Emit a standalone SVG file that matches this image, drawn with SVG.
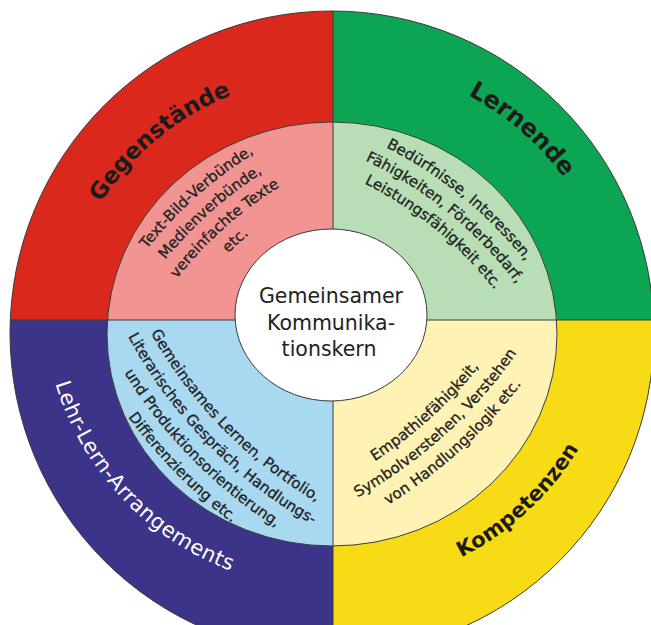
<svg xmlns="http://www.w3.org/2000/svg" width="651" height="625" viewBox="0 0 651 625">
<style>
.lbl{font-family:"DejaVu Sans","Liberation Sans",sans-serif;font-weight:bold;fill:#1b1b1b}
.inr{font-family:"DejaVu Sans","Liberation Sans",sans-serif;font-size:15px;fill:#222;stroke:#222;stroke-width:0.3}
.ctr{font-family:"DejaVu Sans","Liberation Sans",sans-serif;font-size:20.5px;fill:#222;text-anchor:middle}
.ln{stroke:#3a3a3a;stroke-width:1;fill:none}
</style>
<defs>
<clipPath id="clipOuter"><circle cx="332" cy="333" r="322"/></clipPath>
<clipPath id="clipMid"><ellipse cx="332" cy="334" rx="225" ry="212"/></clipPath>
<path id="pG" d="M58.01,347.61 A274,274 0 0 1 381.93,80.59"/>
<path id="pL" d="M285.30,64.80 A289,289 0 0 1 620.98,353.53"/>
<path id="pA" d="M55.33,216.47 A289,289 0 0 0 397.99,581.36"/>
<path id="pK" d="M295.90,585.73 A288,288 0 0 0 619.66,285.93"/>
<path id="r1" d="M90.20,344.30 A420,420 0 0 1 354.85,107.68"/>
<path id="r2" d="M109.50,352.57 A399,399 0 0 1 360.92,127.78"/>
<path id="r3" d="M128.81,360.84 A378,378 0 0 1 366.99,147.88"/>
<path id="r4" d="M148.11,369.11 A357,357 0 0 1 373.06,167.99"/>
<path id="g1" d="M299.52,114.98 A420,420 0 0 1 574.62,339.35"/>
<path id="g2" d="M294.37,135.34 A399,399 0 0 1 555.72,348.49"/>
<path id="g3" d="M289.22,155.70 A378,378 0 0 1 536.81,357.63"/>
<path id="b1" d="M119.22,263.12 A450,450 0 0 0 385.54,534.69"/>
<path id="b2" d="M98.95,270.27 A471.5,471.5 0 0 0 377.99,554.82"/>
<path id="b3" d="M78.68,277.43 A493,493 0 0 0 370.44,574.95"/>
<path id="b4" d="M58.40,284.59 A514.5,514.5 0 0 0 362.89,595.08"/>
<path id="y1" d="M261.50,514.65 A450,450 0 0 0 543.10,258.95"/>
<path id="y2" d="M268.02,535.66 A472,472 0 0 0 563.39,267.46"/>
<path id="y3" d="M274.54,556.67 A494,494 0 0 0 583.68,275.97"/>
</defs>
<rect width="651" height="625" fill="#fff"/>

<g id="gegenstaende">
<rect clip-path="url(#clipOuter)" x="0" y="0" width="333" height="320" fill="#DA291C"/>
<rect clip-path="url(#clipMid)" x="0" y="0" width="333" height="320" fill="#F19492"/>
<text class="lbl" font-size="23"><textPath href="#pG" startOffset="50%" text-anchor="middle">Gegenstände</textPath></text>
<text class="inr"><textPath href="#r1" startOffset="50%" text-anchor="middle">Text-Bild-Verbünde,</textPath></text>
<text class="inr"><textPath href="#r2" startOffset="50%" text-anchor="middle">Medienverbünde,</textPath></text>
<text class="inr"><textPath href="#r3" startOffset="50%" text-anchor="middle">vereinfachte Texte</textPath></text>
<text class="inr"><textPath href="#r4" startOffset="50%" text-anchor="middle">etc.</textPath></text>
</g>

<g id="lernende">
<rect clip-path="url(#clipOuter)" x="333" y="0" width="318" height="320" fill="#0CA553"/>
<rect clip-path="url(#clipMid)" x="333" y="0" width="318" height="320" fill="#B9DEB6"/>
<text class="lbl" font-size="24"><textPath href="#pL" startOffset="50%" text-anchor="middle">Lernende</textPath></text>
<text class="inr"><textPath href="#g1" startOffset="50%" text-anchor="middle">Bedürfnisse, Interessen,</textPath></text>
<text class="inr"><textPath href="#g2" startOffset="50%" text-anchor="middle">Fähigkeiten, Förderbedarf,</textPath></text>
<text class="inr"><textPath href="#g3" startOffset="50%" text-anchor="middle">Leistungsfähigkeit etc.</textPath></text>
</g>

<g id="lehr-lern-arrangements">
<rect clip-path="url(#clipOuter)" x="0" y="320" width="333" height="305" fill="#3B3489"/>
<rect clip-path="url(#clipMid)" x="0" y="320" width="333" height="305" fill="#A8D9F1"/>
<text class="lbl" font-size="21" style="font-weight:normal;fill:#fff" letter-spacing="0.5"><textPath href="#pA" startOffset="50%" text-anchor="middle">Lehr-Lern-Arrangements</textPath></text>
<text class="inr"><textPath href="#b1" startOffset="50%" text-anchor="middle">Gemeinsames Lernen, Portfolio,</textPath></text>
<text class="inr"><textPath href="#b2" startOffset="50%" text-anchor="middle">Literarisches Gespräch, Handlungs-</textPath></text>
<text class="inr"><textPath href="#b3" startOffset="50%" text-anchor="middle">und Produktionsorientierung,</textPath></text>
<text class="inr"><textPath href="#b4" startOffset="50%" text-anchor="middle">Differenzierung etc.</textPath></text>
</g>

<g id="kompetenzen">
<rect clip-path="url(#clipOuter)" x="333" y="320" width="318" height="305" fill="#F7DC15"/>
<rect clip-path="url(#clipMid)" x="333" y="320" width="318" height="305" fill="#FEF2B4"/>
<text class="lbl" font-size="21"><textPath href="#pK" startOffset="50%" text-anchor="middle">Kompetenzen</textPath></text>
<text class="inr"><textPath href="#y1" startOffset="50%" text-anchor="middle">Empathiefähigkeit,</textPath></text>
<text class="inr"><textPath href="#y2" startOffset="50%" text-anchor="middle">Symbolverstehen, Verstehen</textPath></text>
<text class="inr"><textPath href="#y3" startOffset="50%" text-anchor="middle">von Handlungslogik etc.</textPath></text>
</g>

<g id="outlines">
<g clip-path="url(#clipOuter)">
<line class="ln" x1="333" y1="0" x2="333" y2="625"/>
<line class="ln" x1="0" y1="320" x2="651" y2="320"/>
</g>
<ellipse class="ln" cx="332" cy="334" rx="225" ry="212"/>
<circle class="ln" cx="332" cy="333" r="322" stroke="#555"/>
</g>

<g id="kern">
<ellipse cx="331" cy="315" rx="96" ry="86" fill="#fff" stroke="#3a3a3a" stroke-width="1"/>
<text class="ctr" x="331" y="303">Gemeinsamer</text>
<text class="ctr" x="331" y="330">Kommunika-</text>
<text class="ctr" x="329" y="356">tionskern</text>
</g>
</svg>
